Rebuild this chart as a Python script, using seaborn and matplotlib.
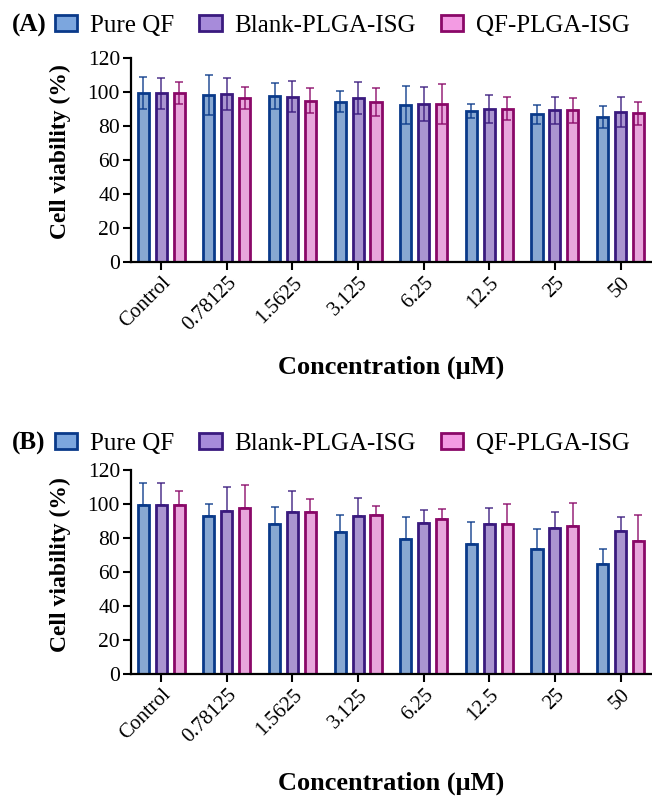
import pandas as pd
import matplotlib.pyplot as plt
import seaborn as sns
import numpy as np
from matplotlib.patches import Patch

# === data ===
conc = ['Control', '0.78125', '1.5625', '3.125', '6.25', '12.5', '25', '50']
groups = ['Pure QF', 'Blank-PLGA-ISG', 'QF-PLGA-ISG']

# panel A (mean, sd)
a_pure = [99.6, 98.4, 97.8, 94.5, 92.4, 88.8, 86.9, 85.3]
a_blank = [99.5, 99.2, 97.3, 96.5, 93.1, 90.2, 89.4, 88.2]
a_qf = [99.5, 96.5, 95.0, 94.3, 93.1, 90.2, 89.4, 87.6]
a_pure_sd = [9.6, 12.0, 7.5, 6.0, 11.3, 4.0, 5.8, 6.3]
a_blank_sd = [9.1, 9.4, 9.2, 9.4, 10.0, 8.4, 7.9, 8.7]
a_qf_sd = [6.4, 6.6, 7.4, 8.4, 12.0, 6.7, 7.3, 6.7]

# panel B (mean, sd)
b_pure = [99.8, 93.3, 88.4, 83.7, 79.8, 76.9, 73.5, 64.7]
b_blank = [99.8, 96.0, 95.3, 93.1, 89.0, 88.2, 86.3, 84.3]
b_qf = [99.8, 98.0, 95.3, 93.9, 91.2, 88.2, 87.1, 78.2]
b_pure_sd = [12.4, 6.7, 10.0, 9.8, 12.7, 12.5, 11.8, 9.0]
b_blank_sd = [12.4, 14.2, 12.7, 10.6, 7.5, 9.7, 9.0, 8.2]
b_qf_sd = [8.0, 13.6, 7.8, 5.3, 6.1, 12.0, 13.7, 15.5]

fills = ['#7CA6DE', '#A78BDA', '#F39BE3']
edges = ['#0A3A8A', '#3A1A7E', '#8A0868']

# === style ===
sns.set_style('ticks')
plt.rcParams['font.family'] = ['Liberation Serif', 'DejaVu Serif']
plt.rcParams.update({'text.color': 'black', 'axes.labelcolor': 'black',
                     'xtick.color': 'black', 'ytick.color': 'black'})


def make_df(vals):
    rows = []
    for g, v in zip(groups, vals):
        for c, y in zip(conc, v):
            rows.append({'conc': c, 'group': g, 'viab': y})
    return pd.DataFrame(rows)


def draw(ax, means, sds, both_sides, xlab_y):
    df = make_df(means)
    sns.barplot(data=df, x='conc', y='viab', hue='group', order=conc,
                hue_order=groups, palette=fills, errorbar=None,
                width=0.82, gap=0.38, ax=ax, legend=False)
    bar_conts = list(ax.containers)
    for i, cont in enumerate(bar_conts):
        for bar in cont:
            bar.set_edgecolor(edges[i])
            bar.set_linewidth(2)
        xs = [b.get_x() + b.get_width() / 2 for b in cont]
        hs = [b.get_height() for b in cont]
        low = sds[i] if both_sides else [0] * len(sds[i])
        ax.errorbar(xs, hs, yerr=[low, sds[i]], fmt='none',
                    ecolor=edges[i], elinewidth=1.3, capsize=3.2,
                    capthick=1.3, alpha=0.75, zorder=3)
    ax.set_ylim(0, 120)
    ax.set_yticks(range(0, 121, 20))
    ax.set_xlim(-0.46, 7.46)
    ax.set_ylabel('Cell viability (%)', fontsize=17, fontweight='bold')
    ax.set_xlabel('Concentration (μM)', fontsize=19, fontweight='bold')
    ax.yaxis.set_label_coords(-0.115, 0.54)
    ax.xaxis.set_label_coords(0.5, xlab_y)
    ax.xaxis.label.set_va('center')
    ax.tick_params(axis='y', labelsize=15.5, length=6, width=1.5, pad=2)
    ax.tick_params(axis='x', labelsize=15, length=6, width=1.5, pad=2)
    plt.setp(ax.get_xticklabels(), rotation=45, ha='right', rotation_mode='anchor')
    sns.despine(ax=ax)
    for s in ['left', 'bottom']:
        ax.spines[s].set_linewidth(1.6)
        ax.spines[s].set_color('black')


fig = plt.figure(figsize=(6.52, 7.97), dpi=100)
axA = fig.add_axes([0.201, 0.671, 0.797, 0.256])
axB = fig.add_axes([0.201, 0.154, 0.797, 0.256])

draw(axA, [a_pure, a_blank, a_qf], [a_pure_sd, a_blank_sd, a_qf_sd], True, -0.515)
draw(axB, [b_pure, b_blank, b_qf], [b_pure_sd, b_blank_sd, b_qf_sd], False, -0.534)

handles = [Patch(facecolor=f, edgecolor=e, linewidth=2) for f, e in zip(fills, edges)]
for lab, ycen in [('(A)', 0.968), ('(B)', 0.443)]:
    fig.text(0.018, ycen, lab, fontsize=18, fontweight='bold', va='center')
    fig.legend(handles, groups, loc='center left', bbox_to_anchor=(0.084, ycen),
               ncol=3, frameon=False, fontsize=18, handlelength=0.9,
               handleheight=0.6, handletextpad=0.5, columnspacing=1.0,
               borderpad=0, borderaxespad=0)

fig.savefig('out.png', dpi=100)
